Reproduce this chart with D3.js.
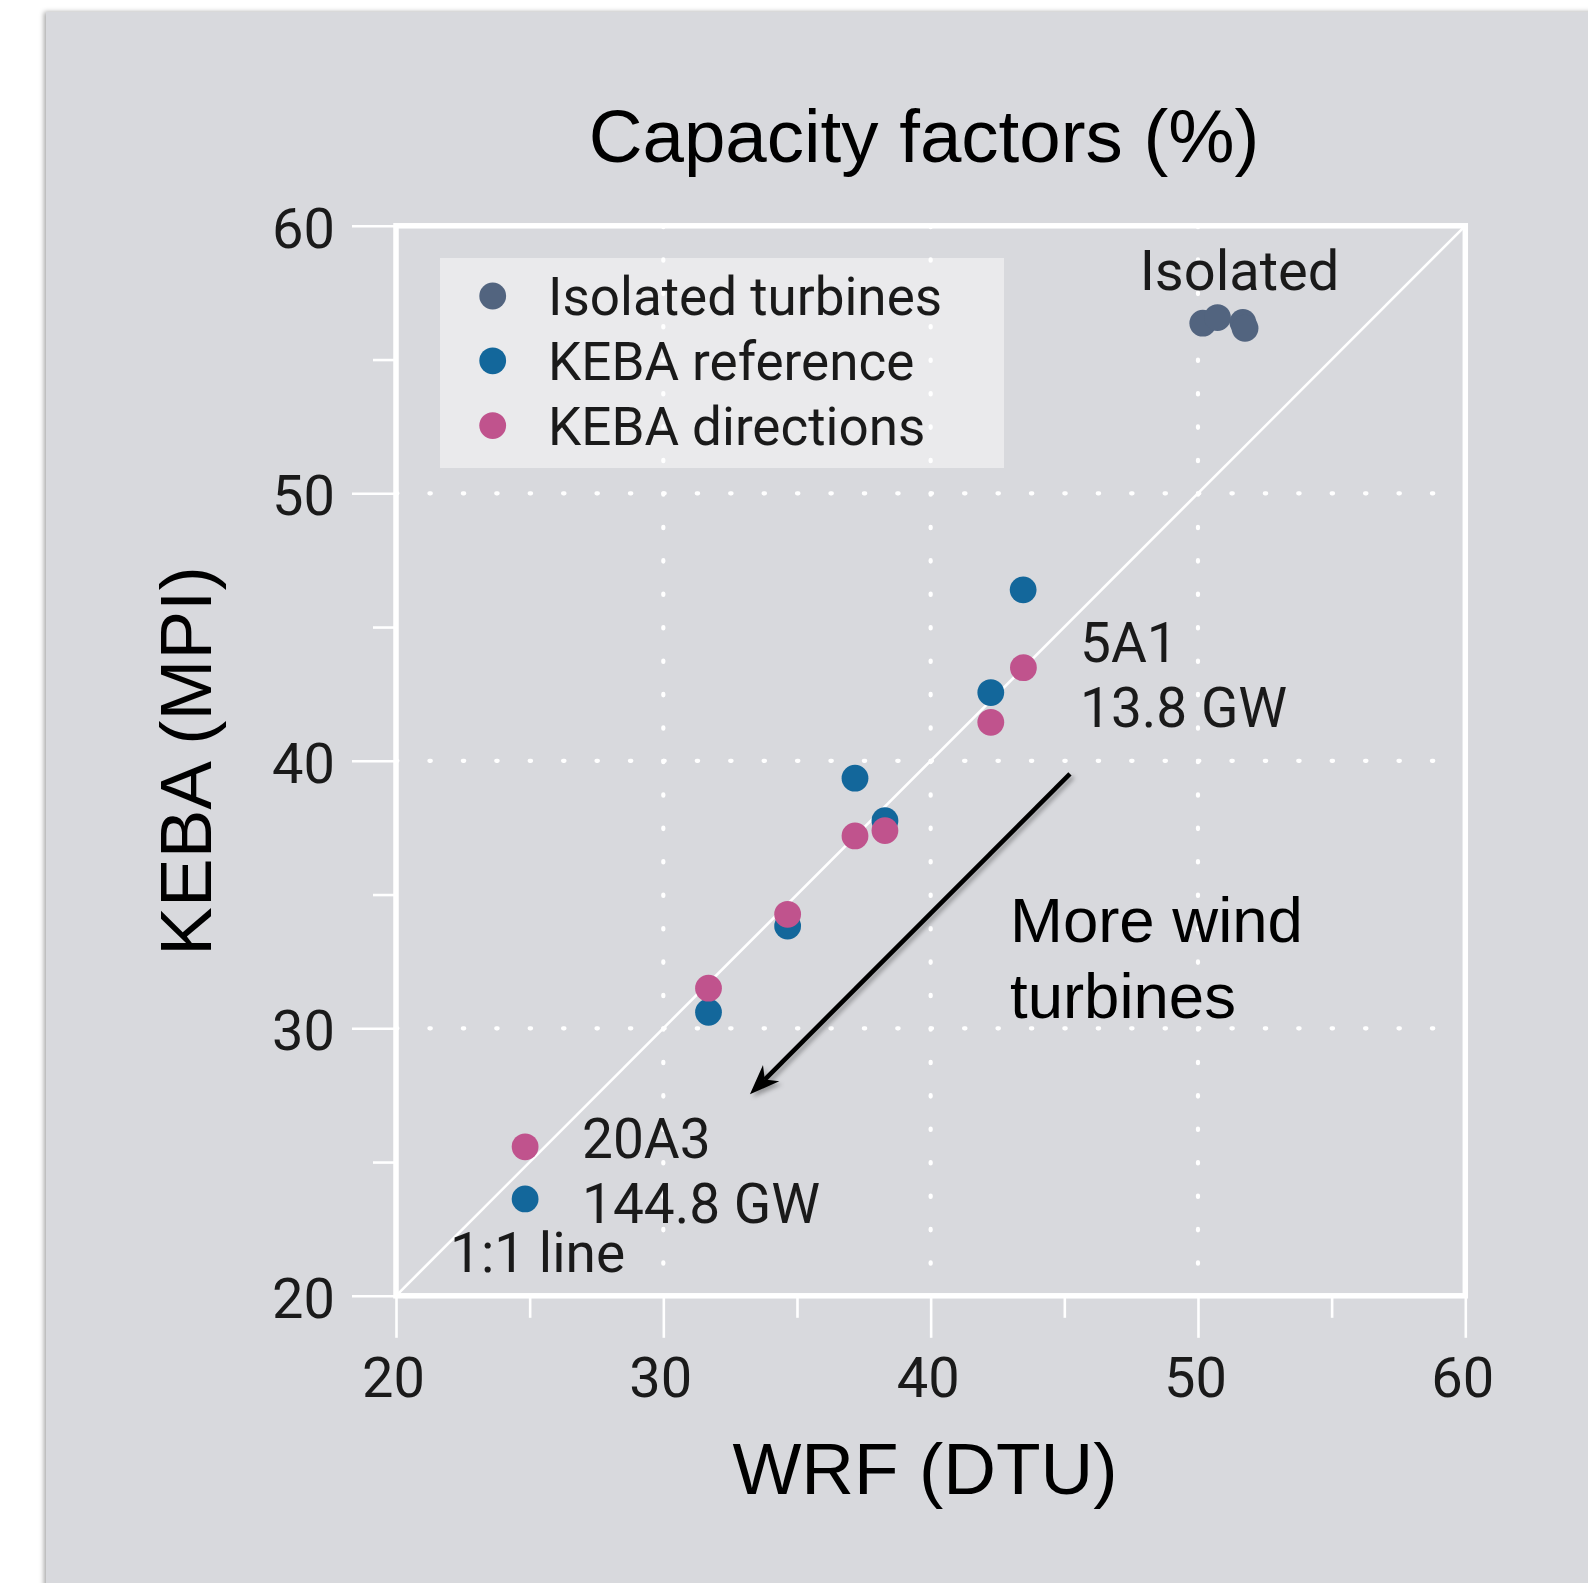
<!DOCTYPE html>
<html><head><meta charset="utf-8">
<script src="https://cdn.jsdelivr.net/npm/d3@7"></script>
<style>body{margin:0;background:#fff;} svg{display:block}</style>
</head><body>
<svg id="c" width="1588" height="1583"></svg>
<script>
// ---- data ----
const seriesNames = ["Isolated turbines", "KEBA reference", "KEBA directions"];
const seriesColors = ["#52647f", "#13679b", "#c0538d"];
const isolatedX = [50.18, 50.73, 51.68, 51.76];
const isolatedY = [56.36, 56.57, 56.39, 56.17];
const referenceX = [43.46, 42.25, 37.17, 38.29, 34.65, 31.69, 24.83];
const referenceY = [46.39, 42.55, 39.35, 37.76, 33.82, 30.60, 23.62];
const directionsX = [43.47, 42.25, 37.17, 38.29, 34.65, 31.69, 24.83];
const directionsY = [43.48, 41.44, 37.19, 37.39, 34.26, 31.50, 25.57];
const majorTicks = [20, 30, 40, 50, 60];
const minorTicks = [25, 35, 45, 55];
const gridValues = [30, 40, 50];
const oneToOne = [20, 60];
const arrowFrom = [45.21, 39.51];
const arrowTo = [33.24, 27.53];

const svg = d3.select("#c");
const W = 1588, H = 1583;
const defs = svg.append("defs");
const sh = defs.append("filter").attr("id", "bgshadow").attr("x", "-5%").attr("y", "-5%").attr("width", "110%").attr("height", "110%");
sh.append("feDropShadow").attr("dx", -2).attr("dy", 0).attr("stdDeviation", 2.5).attr("flood-color", "#000").attr("flood-opacity", 0.35);
const ash = defs.append("filter").attr("id", "arrshadow").attr("x", "-20%").attr("y", "-20%").attr("width", "140%").attr("height", "140%");
ash.append("feDropShadow").attr("dx", 3).attr("dy", 3).attr("stdDeviation", 2).attr("flood-color", "#000").attr("flood-opacity", 0.3);

// background panel
svg.append("rect").attr("x", 46).attr("y", 12).attr("width", W - 46 + 20).attr("height", H - 12 + 20)
  .attr("fill", "#d8d9dd").attr("filter", "url(#bgshadow)");

const x = d3.scaleLinear().domain([20, 60]).range([396, 1465.3]);
const y = d3.scaleLinear().domain([20, 60]).range([1295.8, 225.8]);

const tickFont = "Roboto, 'Noto Sans', sans-serif";
const helv = "'Liberation Sans', Arial, Helvetica, sans-serif";

// gridlines (dotted)
const stepX = x(21.25) - x(20);
const stepY = y(20) - y(21.25);
const grid = svg.append("g");
gridValues.forEach(v => {
  grid.append("line").attr("x1", x(v)).attr("x2", x(v)).attr("y1", y(60)).attr("y2", y(20))
    .attr("stroke", "#fff").attr("stroke-width", 4.2).attr("stroke-linecap", "round")
    .attr("stroke-dasharray", `1.4,${stepY - 1.4}`);
  grid.append("line").attr("x1", x(20)).attr("x2", x(60)).attr("y1", y(v)).attr("y2", y(v))
    .attr("stroke", "#fff").attr("stroke-width", 4.2).attr("stroke-linecap", "round")
    .attr("stroke-dasharray", `1.4,${stepX - 1.4}`);
});

// legend box
const lg = svg.append("g");
lg.append("rect").attr("x", 440).attr("y", 258).attr("width", 564).attr("height", 210)
  .attr("fill", "#fff").attr("fill-opacity", 0.46);
seriesNames.forEach((n, i) => {
  const cy = 296 + i * 64.8;
  lg.append("circle").attr("cx", 492.7).attr("cy", cy).attr("r", 13.4).attr("fill", seriesColors[i]);
  lg.append("text").attr("x", 548).attr("y", cy + 19).attr("font-family", tickFont).attr("font-size", 53)
    .attr("fill", "#1a1a1a").text(n);
});

// 1:1 line
svg.append("line").attr("x1", x(oneToOne[0])).attr("y1", y(oneToOne[0])).attr("x2", x(oneToOne[1])).attr("y2", y(oneToOne[1]))
  .attr("stroke", "#fff").attr("stroke-width", 2.6);

// frame
svg.append("rect").attr("x", x(20)).attr("y", y(60)).attr("width", x(60) - x(20)).attr("height", y(20) - y(60))
  .attr("fill", "none").attr("stroke", "#fff").attr("stroke-width", 5.5);

// axes
function styleAxis(g) {
  g.select(".domain").remove();
  g.selectAll(".tick line").attr("stroke", "#fff").attr("stroke-width", 2.6);
  g.selectAll("text").attr("font-family", tickFont).attr("font-size", 56).attr("fill", "#1a1a1a");
}
svg.append("g").attr("transform", `translate(${x(20)},0)`)
  .call(d3.axisLeft(y).tickValues(majorTicks).tickSize(44).tickPadding(17).tickFormat(d3.format("d")))
  .call(styleAxis).call(g => g.selectAll("text").attr("dy", "0.38em"));
svg.append("g").attr("transform", `translate(${x(20)},0)`)
  .call(d3.axisLeft(y).tickValues(minorTicks).tickSize(23).tickFormat(""))
  .call(styleAxis);
svg.append("g").attr("transform", `translate(0,${y(20)})`)
  .call(d3.axisBottom(x).tickValues(majorTicks).tickSize(42).tickPadding(19).tickFormat(d3.format("d")))
  .call(styleAxis).call(g => g.selectAll("text").attr("dx", -3));
svg.append("g").attr("transform", `translate(0,${y(20)})`)
  .call(d3.axisBottom(x).tickValues(minorTicks).tickSize(22).tickFormat(""))
  .call(styleAxis);

// points
const pts = svg.append("g");
pts.selectAll("circle.iso").data(isolatedX.map((v, i) => [v, isolatedY[i]])).join("circle").attr("class", "iso")
  .attr("cx", d => x(d[0])).attr("cy", d => y(d[1])).attr("r", 13.4).attr("fill", seriesColors[0]);
pts.selectAll("circle.ref").data(referenceX.map((v, i) => [v, referenceY[i]])).join("circle").attr("class", "ref")
  .attr("cx", d => x(d[0])).attr("cy", d => y(d[1])).attr("r", 13.4).attr("fill", seriesColors[1]);
pts.selectAll("circle.dir").data(directionsX.map((v, i) => [v, directionsY[i]])).join("circle").attr("class", "dir")
  .attr("cx", d => x(d[0])).attr("cy", d => y(d[1])).attr("r", 13.4).attr("fill", seriesColors[2]);

// arrow
(function () {
  const x1 = x(arrowFrom[0]), y1 = y(arrowFrom[1]), x2 = x(arrowTo[0]), y2 = y(arrowTo[1]);
  const dx = x2 - x1, dy = y2 - y1, L = Math.hypot(dx, dy);
  const ux = dx / L, uy = dy / L, px = -uy, py = ux;
  const hl = 30, hw = 11.5, notch = 21;
  const g = svg.append("g").attr("filter", "url(#arrshadow)");
  g.append("line").attr("x1", x1).attr("y1", y1).attr("x2", x2 - ux * notch).attr("y2", y2 - uy * notch)
    .attr("stroke", "#000").attr("stroke-width", 4.6);
  const bx = x2 - ux * hl, by = y2 - uy * hl;
  const nx = x2 - ux * notch, ny = y2 - uy * notch;
  g.append("path").attr("d", `M${x2},${y2}L${bx + px * hw},${by + py * hw}L${nx},${ny}L${bx - px * hw},${by - py * hw}Z`)
    .attr("fill", "#000");
})();

// annotations
const ann = svg.append("g").attr("font-family", tickFont).attr("font-size", 55).attr("fill", "#1a1a1a");
ann.append("text").attr("x", 1239.5).attr("y", 290).attr("text-anchor", "middle").attr("font-size", 56).text("Isolated");
ann.append("text").attr("x", 1080).attr("y", 662.3).text("5A1");
ann.append("text").attr("x", 1080).attr("y", 726.7).text("13.8 GW");
ann.append("text").attr("x", 582).attr("y", 1158.3).text("20A3");
ann.append("text").attr("x", 582).attr("y", 1223).text("144.8 GW");
ann.append("text").attr("x", 450).attr("y", 1271.7).text("1:1 line");

const hv = svg.append("g").attr("font-family", helv).attr("fill", "#000");
hv.append("text").attr("x", 1010).attr("y", 941.7).attr("font-size", 63.5).text("More wind");
hv.append("text").attr("x", 1010).attr("y", 1018).attr("font-size", 63.5).text("turbines");
hv.append("text").attr("x", 924).attr("y", 161.7).attr("text-anchor", "middle").attr("font-size", 74.5).text("Capacity factors (%)");
hv.append("text").attr("x", 925).attr("y", 1494).attr("text-anchor", "middle").attr("font-size", 73).text("WRF (DTU)");
hv.append("text").attr("transform", "translate(211,761) rotate(-90)").attr("text-anchor", "middle").attr("font-size", 73).text("KEBA (MPI)");
</script>
</body></html>
